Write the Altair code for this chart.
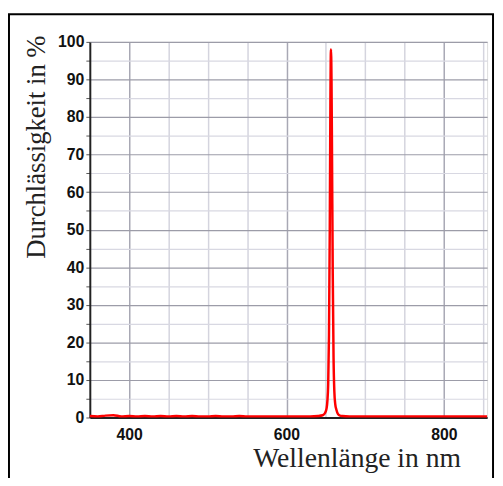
import altair as alt
import pandas as pd

# Wavelength (nm) and transmission (%)
wavelength = [350, 360, 370, 380, 390, 400, 410, 420, 430, 440, 450, 460, 470, 480,
              490, 500, 510, 520, 530, 540, 550, 560, 570, 580, 590, 600, 610, 620,
              630, 640, 646, 649, 651, 652, 653, 654, 655, 655.8, 656.5, 657.2, 657.8,
              658.8, 659.8, 660.8, 662, 663.5, 665.5, 668, 671, 680, 690, 700, 710, 720, 730,
              740, 750, 760, 770, 780, 790, 800, 810, 820, 830, 840, 850, 855]
transmission = [0.4, 0.3, 0.5, 0.6, 0.3, 0.4, 0.3, 0.4, 0.3, 0.4, 0.3, 0.4, 0.3, 0.4,
                0.3, 0.3, 0.4, 0.3, 0.3, 0.4, 0.3, 0.3, 0.3, 0.3, 0.3, 0.3, 0.3, 0.3,
                0.3, 0.4, 0.6, 1.2, 2.5, 4.5, 9, 22, 50, 84, 98, 90, 72,
                38, 16, 7, 3.5, 2, 0.9, 0.5, 0.4, 0.3, 0.3, 0.3, 0.3, 0.3, 0.3,
                0.3, 0.3, 0.3, 0.3, 0.3, 0.3, 0.3, 0.3, 0.3, 0.3, 0.3, 0.3, 0.3]

x_grid = [400, 450, 500, 550, 600, 650, 700, 750, 800, 850]
x_labels = [400, 600, 800]
y_grid = list(range(0, 101, 5))

df = pd.DataFrame({"wl": wavelength, "t": transmission})

W, H = 403, 381
PL, PT = 83, 31

x_scale = alt.Scale(domain=[350, 855], nice=False, zero=False)
y_scale = alt.Scale(domain=[0, 100], nice=False)

x_axis = alt.Axis(
    values=x_grid,
    labelExpr="datum.value % 200 === 0 ? datum.label : ''",
    title="Wellenlänge in nm",
    titleFont="Liberation Serif", titleFontSize=28, titleFontWeight="normal",
    titleColor="#222", titleAlign="right",
    titleX=376, titleY=50, titleBaseline="alphabetic",
    labelFont="Liberation Sans", labelFontSize=16, labelFontWeight="bold",
    labelColor="#111", labelPadding=9, tickSize=0,
    domainColor="#222", domainWidth=2,
    gridColor={"condition": {"test": "datum.value % 200 === 0", "value": "#a8a8b4"},
               "value": "#d4d4de"},
    gridWidth=1.5,
)
y_axis = alt.Axis(
    values=y_grid,
    labelExpr="datum.value % 10 === 0 ? datum.label : ''",
    title="Durchlässigkeit in %",
    titleFont="Liberation Serif", titleFontSize=27, titleFontWeight="normal",
    titleColor="#222", titleAngle=-90, titleAlign="right",
    titleX=-46, titleY=-7, titleBaseline="alphabetic",
    labelFont="Liberation Sans", labelFontSize=16, labelFontWeight="bold",
    labelColor="#111", labelPadding=2, tickSize=4, tickColor="#555",
    domainColor="#222", domainWidth=2,
    gridColor={"condition": {"test": "datum.value % 10 === 0", "value": "#9c9ca8"},
               "value": "#d8d8e2"},
    gridWidth=1.2,
)

line = alt.Chart(df).mark_line(color="#ff0000", strokeWidth=2.5, interpolate="monotone").encode(
    x=alt.X("wl:Q", scale=x_scale, axis=x_axis),
    y=alt.Y("t:Q", scale=y_scale, axis=y_axis),
)

frame = alt.Chart(pd.DataFrame({"a": [0]})).mark_rect(
    filled=False, stroke="#000", strokeWidth=2
).encode(
    x=alt.value(-PL + 1), x2=alt.value(W + 6),
    y=alt.value(-PT + 3), y2=alt.value(H + 80),
)

chart = alt.layer(line, frame).properties(
    width=W, height=H,
    autosize=alt.AutoSizeParams(type="none"),
    padding={"left": PL, "top": PT, "right": 8, "bottom": 58},
).configure_view(stroke="#333", strokeWidth=1.5).configure(background="white")

chart.save("out.html", embed_options={"renderer": "svg", "actions": False})
